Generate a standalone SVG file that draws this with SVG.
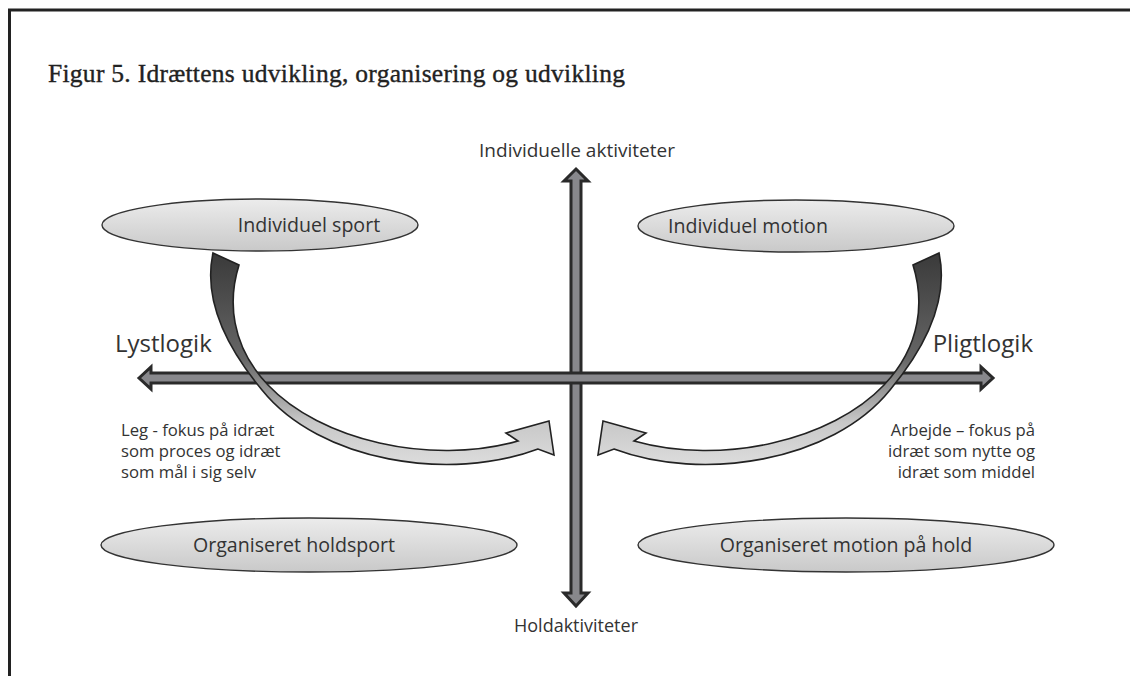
<svg xmlns="http://www.w3.org/2000/svg" width="1130" height="676" viewBox="0 0 1130 676">
  <style>
    .lbl { font-family: "Open Sans", "Liberation Sans", sans-serif; fill: #333; }
    .node-txt { font-size: 19.6px; text-anchor: middle; }
    .axis-txt { font-size: 19px; text-anchor: middle; }
    .logic { font-size: 24px; }
    .note { font-size: 16.7px; }
    .ell { fill: url(#ellGrad); stroke: #333; stroke-width: 1.4; }
    .axis { fill: #88888c; stroke: #2a2a2a; stroke-width: 3; stroke-linejoin: miter; }
    .curve { fill: url(#curveGrad); stroke: #222; stroke-width: 1.6; stroke-linejoin: miter; }
    .title { font-family: "Liberation Serif", "DejaVu Serif", serif; font-size: 25.5px; fill: #222; stroke: #222; stroke-width: 0.35; }
  </style>
  <defs>
    <linearGradient id="ellGrad" x1="0" y1="0" x2="0" y2="1">
      <stop offset="0" stop-color="#ececec"/>
      <stop offset="1" stop-color="#c9c9c9"/>
    </linearGradient>
    <linearGradient id="curveGrad" x1="0" y1="0" x2="0" y2="1">
      <stop offset="0" stop-color="#3a3a3a"/>
      <stop offset="0.5" stop-color="#666"/>
      <stop offset="0.8" stop-color="#c8c8c8"/>
      <stop offset="1" stop-color="#dcdcdc"/>
    </linearGradient>
  </defs>
  <rect width="1130" height="676" fill="#fff"/>
  <!-- frame -->
  <path d="M9.5,676 L9.5,10 L1130,10" fill="none" stroke="#222" stroke-width="3"/>
  <text class="title" x="48" y="82" textLength="577" lengthAdjust="spacing">Figur 5. Idrættens udvikling, organisering og udvikling</text>

  <g id="connectors">
    <path id="axis-vertical" class="axis" d="M576,169 L588,181 L581,181 L581,593 L588,593 L576,606 L564,593 L571,593 L571,181 L564,181 Z"/>
    <path id="axis-horizontal" class="axis" d="M139,378 L151,367 L151,373 L981,373 L981,367 L993,378 L981,389 L981,383 L151,383 L151,389 Z"/>
    <path id="curve-left" class="curve" d="M213,253 L239,265 C228,300 230,345 268,385 C320,440 430,466 518,441 L506,433 L549,421 L554,455 L538,449 C450,482 320,462 262,390 C222,342 204,295 213,253 Z"/>
    <path id="curve-right" class="curve" transform="translate(1152,0) scale(-1,1)" d="M213,253 L239,265 C228,300 230,345 268,385 C320,440 430,466 518,441 L506,433 L549,421 L554,455 L538,449 C450,482 320,462 262,390 C222,342 204,295 213,253 Z"/>
  </g>

  <g id="node-individuel-sport">
    <ellipse class="ell" cx="260" cy="225" rx="158" ry="26"/>
    <text class="lbl node-txt" x="309" y="232">Individuel sport</text>
  </g>
  <g id="node-individuel-motion">
    <ellipse class="ell" cx="796" cy="226" rx="158" ry="26"/>
    <text class="lbl node-txt" x="748" y="233">Individuel motion</text>
  </g>
  <g id="node-organiseret-holdsport">
    <ellipse class="ell" cx="309" cy="545" rx="208" ry="27"/>
    <text class="lbl node-txt" x="294" y="552">Organiseret holdsport</text>
  </g>
  <g id="node-organiseret-motion">
    <ellipse class="ell" cx="846" cy="545" rx="208" ry="27"/>
    <text class="lbl node-txt" x="846" y="552">Organiseret motion på hold</text>
  </g>

  <g id="label-individuelle-aktiviteter">
    <text class="lbl axis-txt" x="577" y="157">Individuelle aktiviteter</text>
  </g>
  <g id="label-holdaktiviteter">
    <text class="lbl axis-txt" x="576" y="632" style="font-size:18px">Holdaktiviteter</text>
  </g>
  <g id="label-lystlogik">
    <text class="lbl logic" x="115" y="352">Lystlogik</text>
  </g>
  <g id="label-pligtlogik">
    <text class="lbl logic" x="1033" y="352" text-anchor="end">Pligtlogik</text>
  </g>
  <g id="label-leg">
    <text class="lbl note" x="121" y="436">Leg - fokus på idræt</text>
    <text class="lbl note" x="121" y="457">som proces og idræt</text>
    <text class="lbl note" x="121" y="478">som mål i sig selv</text>
  </g>
  <g id="label-arbejde">
    <text class="lbl note" x="1035" y="436" text-anchor="end">Arbejde – fokus på</text>
    <text class="lbl note" x="1035" y="457" text-anchor="end">idræt som nytte og</text>
    <text class="lbl note" x="1035" y="478" text-anchor="end">idræt som middel</text>
  </g>
</svg>
